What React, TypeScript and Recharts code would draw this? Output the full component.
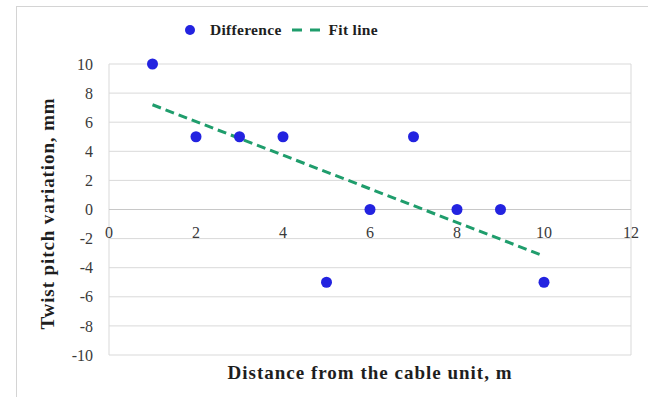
import React from "react";
import {
  ScatterChart,
  Scatter,
  XAxis,
  YAxis,
  CartesianGrid,
  ReferenceLine,
  ReferenceDot,
  Legend,
} from "recharts";

// Measured twist pitch differences along the cable
const distances = [1, 2, 3, 4, 5, 6, 7, 8, 9, 10];
const differences = [10, 5, 5, 5, -5, 0, 5, 0, 0, -5];

// Linear fit end points
const fitX = [1, 10];
const fitY = [7.2, -3.2];

const xTicks = [0, 2, 4, 6, 8, 10, 12];
const yTicks = [-10, -8, -6, -4, -2, 0, 2, 4, 6, 8, 10];

const seriesNames = ["Difference", "Fit line"];
const xTitle = "Distance from the cable unit, m";
const yTitle = "Twist pitch variation, mm";

const pointData = distances.map((x, i) => ({ x, y: differences[i] }));
const fitData = fitX.map((x, i) => ({ x, y: fitY[i] }));

const SERIF = "'Liberation Serif', 'DejaVu Serif', serif";
const BLUE = "#2323e0";
const GREEN = "#1f9d6c";
const GRID = "#d9d9d9";
const TICK_STYLE = { fontFamily: SERIF, fontSize: 16, fill: "#3a3a3a" };
const TITLE_STYLE = {
  fontFamily: SERIF,
  fontWeight: "bold",
  fontSize: 19,
  letterSpacing: 1,
  fill: "#1e1e1e",
};

const LegendBox = () => (
  <div
    style={{
      display: "flex",
      alignItems: "center",
      fontFamily: SERIF,
      fontWeight: "bold",
      fontSize: 15.5,
      letterSpacing: 0.3,
      color: "#1e1e1e",
      whiteSpace: "nowrap",
    }}
  >
    <svg width={14} height={14} style={{ marginRight: 13 }}>
      <circle cx={7} cy={7} r={5} fill={BLUE} />
    </svg>
    <span style={{ marginRight: 10 }}>{seriesNames[0]}</span>
    <svg width={28} height={10} style={{ marginRight: 9 }}>
      <line
        x1={0}
        y1={5}
        x2={28}
        y2={5}
        stroke={GREEN}
        strokeWidth={3}
        strokeDasharray="10 8"
      />
    </svg>
    <span>{seriesNames[1]}</span>
  </div>
);

const Dot = (props: any) => {
  const { cx, cy } = props;
  if (cx == null || cy == null) return null;
  return <circle cx={cx} cy={cy} r={5.5} fill={BLUE} />;
};

export default function App() {
  return (
    <div
      style={{
        position: "absolute",
        left: 0,
        top: 0,
        width: 648,
        height: 397,
        background: "#ffffff",
        overflow: "hidden",
      }}
    >
      <div
        style={{
          position: "absolute",
          left: 16,
          top: 6,
          width: 640,
          height: 400,
          borderLeft: "1px solid #d4d4d4",
          borderTop: "1px solid #d4d4d4",
        }}
      />
      <div style={{ position: "absolute", left: 0, top: 0 }}>
        <ScatterChart
          width={648}
          height={397}
          margin={{ top: 64, right: 17, bottom: 0, left: 0 }}
        >
          <CartesianGrid stroke={GRID} strokeWidth={1} />
          <XAxis
            type="number"
            dataKey="x"
            domain={[0, 12]}
            ticks={xTicks}
            tick={false}
            tickLine={false}
            axisLine={false}
            height={42}
            label={{
              value: xTitle,
              position: "insideBottom",
              offset: 18,
              style: TITLE_STYLE,
            }}
          />
          <YAxis
            type="number"
            dataKey="y"
            domain={[-10, 10]}
            ticks={yTicks}
            interval={0}
            width={109}
            tickLine={false}
            axisLine={false}
            tickMargin={10}
            tick={TICK_STYLE}
            label={{
              value: yTitle,
              angle: -90,
              position: "center",
              dx: -7,
              dy: 4,
              style: { ...TITLE_STYLE, letterSpacing: 0.9, textAnchor: "middle" },
            }}
          />
          <ReferenceLine y={0} stroke="#c8c8c8" strokeWidth={1} />
          {xTicks.map((t) => (
            <ReferenceDot
              key={t}
              x={t}
              y={0}
              r={0}
              fill="none"
              stroke="none"
              label={{
                value: String(t),
                position: "bottom",
                offset: 17,
                style: TICK_STYLE,
              }}
            />
          ))}
          <Legend
            verticalAlign="middle"
            layout="horizontal"
            content={() => <LegendBox />}
            wrapperStyle={{ top: 21, left: 183, width: "auto" }}
          />
          <Scatter
            name={seriesNames[1]}
            data={fitData}
            line={{ stroke: GREEN, strokeWidth: 3, strokeDasharray: "9 5" }}
            shape={() => null}
            isAnimationActive={false}
          />
          <Scatter
            name={seriesNames[0]}
            data={pointData}
            shape={Dot}
            isAnimationActive={false}
          />
        </ScatterChart>
      </div>
    </div>
  );
}
